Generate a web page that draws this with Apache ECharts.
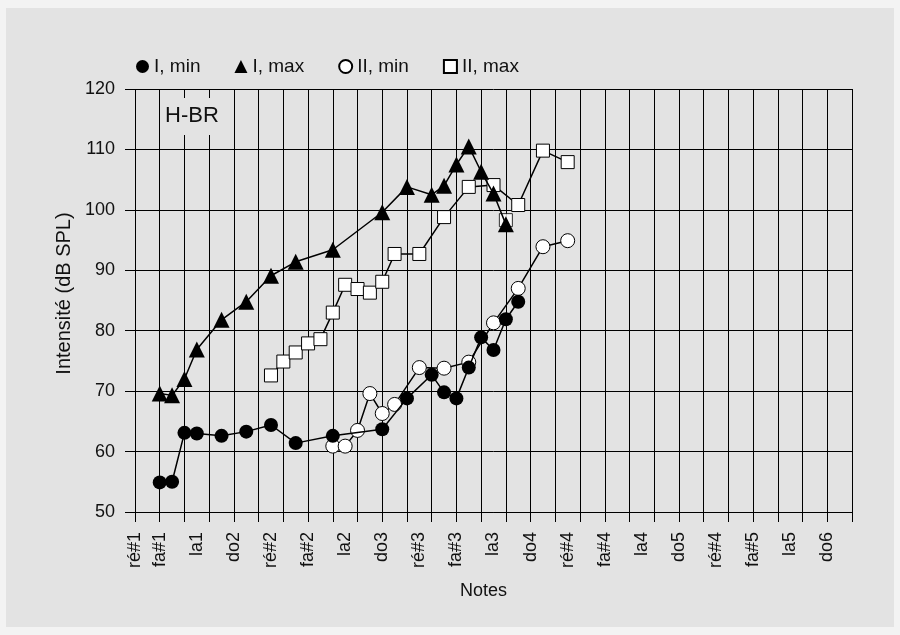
<!DOCTYPE html>
<html>
<head>
<meta charset="utf-8">
<script src="https://cdn.jsdelivr.net/npm/echarts@6/dist/echarts.min.js"></script>
<style>
html,body{margin:0;padding:0;background:#f3f3f3;}
#c{width:900px;height:635px;}
</style>
</head>
<body>
<div id="c"></div>
<script>
// x in semitone steps (one vertical grid line every 2 steps)
const noteTickValues = [0, 2, 5, 8, 11, 14, 17, 20, 23, 26, 29, 32, 35, 38, 41, 44, 47, 50, 53, 56];
const noteTickLabels = ['ré#1','fa#1','la1','do2','ré#2','fa#2','la2','do3','ré#3','fa#3','la3','do4','ré#4','fa#4','la4','do5','ré#4','fa#5','la5','do6'];
const yTicks = [50, 60, 70, 80, 90, 100, 110, 120];

const iMin = [[2,54.9],[3,55.0],[4,63.1],[5,63.0],[7,62.6],[9,63.3],[11,64.4],[13,61.4],[16,62.6],[20,63.7],[22,68.8],[24,72.7],[25,69.8],[26,68.8],[27,73.9],[28,78.9],[29,76.8],[30,81.9],[31,84.8]];
const iMax = [[2,69.6],[3,69.3],[4,72.0],[5,76.9],[7,81.8],[9,84.8],[11,89.1],[13,91.4],[16,93.4],[20,99.6],[22,103.8],[24,102.5],[25,104.0],[26,107.5],[27,110.5],[28,106.3],[29,102.7],[30,97.6]];
const iiMin = [[16,60.9],[17,60.9],[18,63.5],[19,69.6],[20,66.3],[21,67.8],[23,73.9],[25,73.8],[27,74.8],[29,81.3],[31,87.0],[33,93.9],[35,94.9]];
const iiMax = [[11,72.6],[12,74.9],[13,76.4],[14,77.9],[15,78.6],[16,83.0],[17,87.6],[18,86.9],[19,86.3],[20,88.1],[21,92.7],[23,92.7],[25,98.8],[27,103.8],[29,104.1],[31,100.8],[33,109.8],[35,107.9]];
const iiMaxLoose = [[30,98.3]];

const FONT = 'Liberation Sans, Arial, sans-serif';
const BG = '#e3e3e3';
const INK = '#111';

const chart = echarts.init(document.getElementById('c'), null, {renderer:'canvas'});
const labelMap = {};
noteTickValues.forEach((v,i)=>{ labelMap[v] = noteTickLabels[i]; });

const lineStyle = {color:'#000', width:1.5};
chart.setOption({
  backgroundColor: 'transparent',
  animation: false,
  textStyle: {fontFamily: FONT},
  graphic: [
    {type:'rect', z:-10, silent:true, shape:{x:6, y:8, width:888, height:619}, style:{fill:BG}},
    {type:'rect', z:50, silent:true, shape:{x:162, y:98, width:70, height:37}, style:{fill:BG}},
    {type:'text', z:51, silent:true, left:165, top:105, style:{text:'H-BR', fontSize:22, fontFamily:FONT, fill:INK}}
  ],
  legend: {
    left: 131, top: 52,
    itemWidth: 13, itemHeight: 13, itemGap: 34,
    textStyle: {fontSize: 19, color: INK, fontFamily: FONT},
    data: [
      {name:'I, min', icon:'circle'},
      {name:'I, max', icon:'triangle'},
      {name:'II, min', icon:'circle'},
      {name:'II, max', icon:'rect'}
    ]
  },
  grid: {left:135, right:48, top:89, bottom:123, containLabel:false},
  xAxis: {
    type:'value', min:0, max:58, interval:2,
    name:'Notes', nameLocation:'middle', nameGap:70,
    nameTextStyle:{fontSize:18, color:INK, fontFamily:FONT, padding:[0,20,0,0]},
    axisLine:{show:true, onZero:false, lineStyle:{color:'#000', width:1}},
    axisTick:{show:true, length:10, lineStyle:{color:'#000', width:1}},
    splitLine:{show:true, lineStyle:{color:'#000', width:1}},
    axisLabel:{
      show:true, rotate:90, margin:20, fontSize:18, color:INK, fontFamily:FONT,
      customValues: noteTickValues,
      formatter: v => labelMap[v] !== undefined ? labelMap[v] : ''
    }
  },
  yAxis: {
    type:'value', min:50, max:120, interval:10,
    name:'Intensité (dB SPL)', nameLocation:'middle', nameGap:57,
    nameTextStyle:{fontSize:20, color:INK, fontFamily:FONT, padding:[0,0,0,14]},
    axisLine:{show:false},
    axisTick:{show:true, length:10, lineStyle:{color:'#000', width:1}},
    splitLine:{show:true, lineStyle:{color:'#000', width:1}},
    axisLabel:{margin:20, fontSize:18, color:INK, fontFamily:FONT,
      formatter: v => yTicks.includes(v) ? String(v) : ''}
  },
  series: [
    {name:'II, max', type:'line', data:iiMax, symbol:'rect', symbolSize:13, z:3,
     lineStyle:lineStyle, itemStyle:{color:'#fff', borderColor:'#000', borderWidth:1}},
    {name:'II, max', type:'scatter', data:iiMaxLoose, symbol:'rect', symbolSize:13, z:3,
     itemStyle:{color:'#fff', borderColor:'#000', borderWidth:1}},
    {name:'II, min', type:'line', data:iiMin, symbol:'circle', symbolSize:14, z:4,
     lineStyle:lineStyle, itemStyle:{color:'#fff', borderColor:'#000', borderWidth:1}},
    {name:'I, max', type:'line', data:iMax, symbol:'triangle', symbolSize:16, z:5,
     lineStyle:lineStyle, itemStyle:{color:'#000', borderColor:'#000', borderWidth:0}},
    {name:'I, min', type:'line', data:iMin, symbol:'circle', symbolSize:14, z:6,
     lineStyle:lineStyle, itemStyle:{color:'#000', borderColor:'#000', borderWidth:0}}
  ]
});
</script>
</body>
</html>
